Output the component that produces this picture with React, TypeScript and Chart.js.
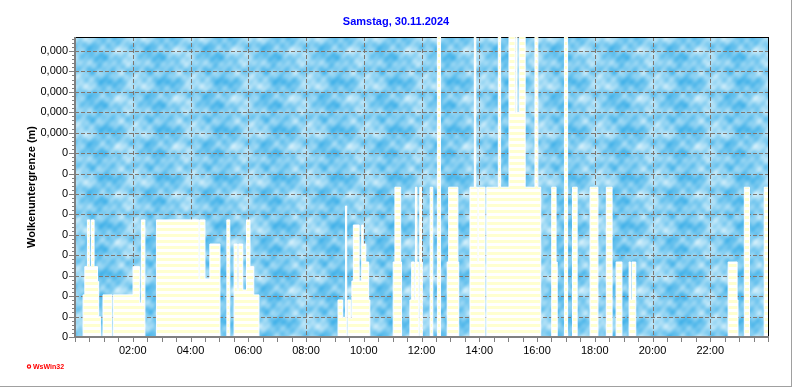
import React, { useEffect, useRef } from 'react';
import { Chart, registerables } from 'chart.js';

Chart.register(...registerables);

const titleText = 'Samstag, 30.11.2024';
const yAxisTitle = 'Wolkenuntergrenze (m)';
const footerText = 'WsWin32';

// y tick labels for tick values 0..14
const yTickLabels = ['0', '0', '0', '0', '0', '0', '0', '0', '0', '0', '0,000', '0,000', '0,000', '0,000', '0,000'];
const xTickHours = [2, 4, 6, 8, 10, 12, 14, 16, 18, 20, 22];
const xTickLabels = ['02:00', '04:00', '06:00', '08:00', '10:00', '12:00', '14:00', '16:00', '18:00', '20:00', '22:00'];

// step series: value holds from this hour until the next hour
const stepHours = [
  0.00, 0.28, 0.34, 0.43, 0.51, 0.57, 0.66, 0.78, 0.82, 0.89, 0.97, 1.28, 1.33, 2.01, 2.24, 2.30, 2.42,
  2.82, 4.29, 4.32, 4.50, 4.67, 5.02, 5.26, 5.36, 5.51, 5.62, 5.67, 5.81, 5.94, 6.06, 6.19, 6.37,
  9.11, 9.27, 9.37, 9.41, 9.45, 9.55, 9.59, 9.64, 9.84, 9.93, 9.98, 10.07, 10.17, 10.21,
  11.02, 11.08, 11.28, 11.31, 11.60, 11.66, 11.75, 11.79, 11.84, 11.90, 11.94, 12.00, 12.03,
  12.30, 12.39, 12.55, 12.66, 12.89, 12.94, 13.26, 13.29,
  13.68, 13.83, 13.88, 13.95, 13.97, 14.20, 14.26, 14.66, 14.74, 15.03, 15.24, 15.27, 15.31, 15.38,
  15.59, 15.93, 16.03, 16.13, 16.51, 16.66, 16.70, 16.95, 17.06, 17.23, 17.39, 17.84, 18.11,
  18.40, 18.60, 18.74, 18.94, 19.19, 19.24, 19.29, 19.42,
  22.62, 22.93, 22.96, 23.18, 23.36, 23.87, 24.00,
];
const stepValues = [
  0, 2.06, 3.44, 5.73, 3.44, 5.73, 3.44, 2.71, 0.99, 0, 2.06, 0, 2.06, 3.44, 1.66, 5.73, 0,
  5.73, 2.84, 5.73, 2.84, 4.55, 0, 5.73, 0, 4.55, 2.30, 4.55, 2.30, 5.73, 3.44, 2.06, 0,
  1.81, 0.96, 6.41, 0, 1.81, 0.90, 2.74, 5.48, 2.74, 5.48, 4.55, 3.67, 1.81, 0,
  3.67, 7.33, 3.67, 0, 1.81, 3.67, 1.81, 7.33, 3.67, 0, 7.33, 3.67, 0,
  7.33, 0, 16, 0, 3.67, 7.33, 3.67, 0,
  7.33, 16, 7.33, 3.67, 7.33, 0, 7.33, 16, 7.33, 16, 10.98, 16, 10.98, 16,
  7.33, 16, 7.33, 0, 7.33, 3.67, 0, 16, 0, 7.33, 0, 7.33, 0,
  7.33, 0, 3.67, 0, 3.67, 1.81, 3.67, 0,
  3.67, 1.81, 0, 7.33, 0, 7.33, 7.33,
];

const Y_MAX = 14.68;
const FONT = "'Liberation Sans', Arial, Helvetica, sans-serif";

function makeSkyPattern(): CanvasPattern | string {
  const W = 58, H = 48;
  const c = document.createElement('canvas');
  c.width = W; c.height = H;
  const g = c.getContext('2d');
  if (!g) return '#6cc3ec';
  const img = g.createImageData(W, H);
  const dark = [40, 166, 229];
  const light = [220, 243, 252];
  for (let y = 0; y < H; y++) {
    for (let x = 0; x < W; x++) {
      const u = (2 * Math.PI * x) / W;
      const v = (2 * Math.PI * y) / H;
      const n =
        0.40 * Math.sin(u + 0.9 * Math.sin(v + 0.5)) +
        0.32 * Math.sin(2 * v - u + 1.1 + 0.6 * Math.cos(2 * u)) +
        0.26 * Math.sin(3 * u + 2 * v + 0.4) +
        0.20 * Math.sin(4 * v + 0.8 * Math.sin(3 * u)) +
        0.14 * Math.sin(5 * u - 3 * v + 2.0) +
        0.10 * Math.sin(7 * u + 5 * v + 0.3);
      let t = (n + 1.3) / 2.6;
      t = Math.max(0, Math.min(1, t));
      t = 0.08 + 0.88 * t;
      const i = (y * W + x) * 4;
      img.data[i] = dark[0] + (light[0] - dark[0]) * t;
      img.data[i + 1] = dark[1] + (light[1] - dark[1]) * t;
      img.data[i + 2] = dark[2] + (light[2] - dark[2]) * t;
      img.data[i + 3] = 255;
    }
  }
  g.putImageData(img, 0, 0);
  const p = g.createPattern(c, 'repeat');
  return p || '#6cc3ec';
}

function makeStripePattern(): CanvasPattern | string {
  const c = document.createElement('canvas');
  c.width = 4; c.height = 6;
  const g = c.getContext('2d');
  if (!g) return '#ffffd4';
  g.fillStyle = '#ffffd0';
  g.fillRect(0, 0, 4, 3);
  g.fillStyle = '#ffffff';
  g.fillRect(0, 3, 4, 3);
  return g.createPattern(c, 'repeat') || '#ffffd4';
}

export default function App() {
  const ref = useRef<HTMLCanvasElement | null>(null);

  useEffect(() => {
    document.body.style.margin = '0';
    document.body.style.overflow = 'hidden';
    const canvas = ref.current;
    if (!canvas) return;
    const sky = makeSkyPattern();
    const stripes = makeStripePattern();

    const decor = {
      id: 'decor',
      beforeDraw(chart: any) {
        const { ctx, chartArea: a } = chart;
        ctx.save();
        ctx.fillStyle = '#ffffff';
        ctx.fillRect(0, 0, chart.width, chart.height);
        ctx.fillStyle = sky;
        ctx.fillRect(a.left, a.top, a.right - a.left, a.bottom - a.top);
        ctx.restore();
      },
      beforeDatasetsDraw(chart: any) {
        const { ctx, chartArea: a, scales } = chart;
        const xs = scales.x, ys = scales.y;
        ctx.save();
        ctx.strokeStyle = '#80766e';
        ctx.lineWidth = 1;
        ctx.setLineDash([4, 2]);
        for (let k = 1; k < yTickLabels.length; k++) {
          const py = Math.round(ys.getPixelForValue(k)) + 0.5;
          ctx.beginPath();
          ctx.moveTo(a.left, py);
          ctx.lineTo(a.right, py);
          ctx.stroke();
        }
        for (const h of xTickHours) {
          const px = Math.round(xs.getPixelForValue(h)) + 0.5;
          ctx.beginPath();
          ctx.moveTo(px, a.top);
          ctx.lineTo(px, a.bottom);
          ctx.stroke();
        }
        ctx.setLineDash([]);
        ctx.fillStyle = '#000000';
        ctx.fillRect(a.left, a.top, a.right - a.left + 1, 1);
        ctx.restore();
      },
      afterDatasetsDraw(chart: any) {
        const { ctx, chartArea: a, scales } = chart;
        const xs = scales.x, ys = scales.y;
        ctx.save();
        // right border
        ctx.fillStyle = '#000000';
        ctx.fillRect(Math.round(a.right), a.top, 1, a.bottom - a.top);
        // left and bottom axes (grey, thick)
        ctx.fillStyle = '#808080';
        ctx.fillRect(a.left - 1, a.top, 2, a.bottom - a.top + 1);
        ctx.fillRect(a.left - 1, a.bottom - 1, a.right - a.left + 2, 2);
        // y ticks
        for (let k = 0; k * 0.2 <= Y_MAX + 1e-6; k++) {
          const v = k * 0.2;
          const py = Math.round(ys.getPixelForValue(v));
          const major = k % 5 === 0;
          ctx.fillRect(a.left - (major ? 6 : 3), py, major ? 5 : 2, 1);
        }
        // x ticks every 30 minutes
        for (let k = 0; k <= 48; k++) {
          const px = Math.round(xs.getPixelForValue(k * 0.5));
          ctx.fillRect(px, a.bottom + 1, 1, 4);
        }
        // title
        ctx.fillStyle = '#0000ff';
        ctx.font = `bold 11px ${FONT}`;
        ctx.textAlign = 'center';
        ctx.textBaseline = 'middle';
        ctx.fillText(titleText, chart.width / 2, 22);
        // y axis title
        ctx.fillStyle = '#000000';
        ctx.save();
        ctx.translate(32, (a.top + a.bottom) / 2);
        ctx.rotate(-Math.PI / 2);
        ctx.fillText(yAxisTitle, 0, 0);
        ctx.restore();
        // footer
        ctx.fillStyle = '#ff0000';
        ctx.strokeStyle = '#ff0000';
        ctx.beginPath();
        ctx.arc(29, 366.5, 1.6, 0, Math.PI * 2);
        ctx.lineWidth = 1.2;
        ctx.stroke();
        ctx.font = `bold 7px ${FONT}`;
        ctx.textAlign = 'left';
        ctx.fillText(footerText, 33, 367);
        // window frame lines
        ctx.fillStyle = '#a0a0a0';
        ctx.fillRect(0, chart.height - 1, chart.width, 1);
        ctx.fillRect(chart.width - 1, 0, 1, chart.height);
        ctx.restore();
      },
    };

    const chart = new Chart(canvas, {
      type: 'line',
      data: {
        datasets: [
          {
            data: stepHours.map((h, i) => ({ x: h, y: stepValues[i] })),
            stepped: true,
            fill: 'origin',
            backgroundColor: stripes as any,
            borderColor: '#ffffff',
            borderWidth: 1,
            pointRadius: 0,
            tension: 0,
          },
        ],
      },
      options: {
        animation: false,
        responsive: false,
        devicePixelRatio: 1,
        events: [],
        layout: { padding: { top: 37, right: 24, left: 0, bottom: 0 } },
        plugins: { legend: { display: false }, tooltip: { enabled: false }, title: { display: false } },
        scales: {
          x: {
            type: 'linear',
            min: 0,
            max: 24,
            grid: { display: false, drawTicks: false },
            border: { display: false },
            afterFit: (s: any) => { s.height = 50; },
            ticks: {
              stepSize: 2,
              autoSkip: false,
              maxRotation: 0,
              includeBounds: false,
              padding: 7,
              color: '#000000',
              font: { family: FONT, size: 11 },
              callback: (v: any) => {
                const i = xTickHours.indexOf(Number(v));
                return i >= 0 ? xTickLabels[i] : '';
              },
            },
          },
          y: {
            type: 'linear',
            min: 0,
            max: Y_MAX,
            grid: { display: false, drawTicks: false },
            border: { display: false },
            afterFit: (s: any) => { s.width = 75; },
            ticks: {
              stepSize: 1,
              autoSkip: false,
              includeBounds: false,
              padding: 7,
              color: '#000000',
              font: { family: FONT, size: 11 },
              callback: (v: any) => {
                const n = Number(v);
                return Number.isInteger(n) && yTickLabels[n] !== undefined ? yTickLabels[n] : '';
              },
            },
          },
        },
      },
      plugins: [decor],
    });
    return () => chart.destroy();
  }, []);

  return (
    <div style={{ position: 'absolute', left: 0, top: 0, width: 792, height: 387 }}>
      <canvas ref={ref} width={792} height={387} style={{ display: 'block', width: 792, height: 387 }} />
    </div>
  );
}
